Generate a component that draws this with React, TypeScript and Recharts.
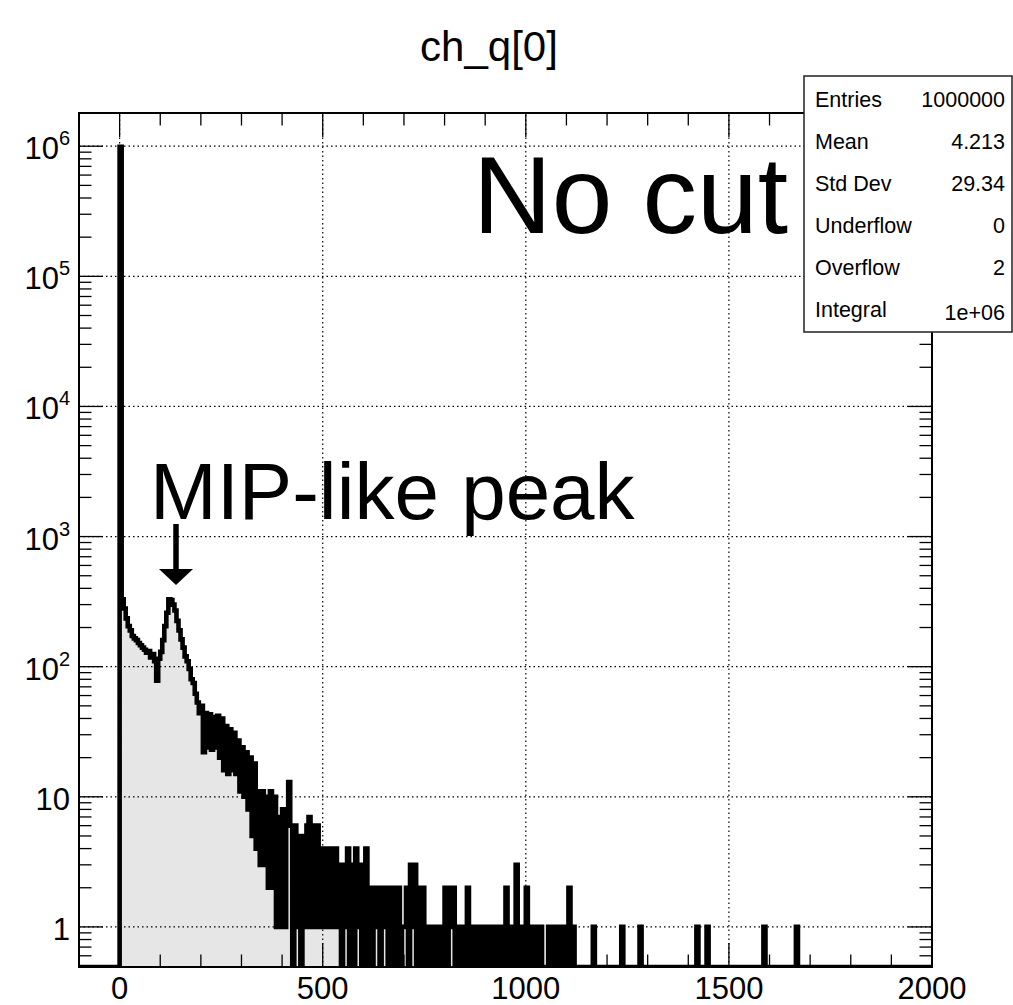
import React from 'react';
import { AreaChart, Area, XAxis, YAxis, ReferenceLine } from 'recharts';

/* ─── Layout ─────────────────────────────────────────────────────────── */

const FONT = '"Liberation Sans", Arial, Helvetica, sans-serif';
const W = 1013;
const H = 1005;
const PLOT = { left: 79, right: 932, top: 113, bottom: 967 };

const X_MIN = -100;
const X_MAX = 2000;
const Y_MIN = 0.492;
const Y_MAX = 1.8e6;
const BIN_WIDTH = 5;

/* ─── Data (counts per 5-unit bin) ───────────────────────────────────── */

// bins 0 .. 200
const countsLow = [
  990000, 330, 280, 235, 205, 190, 172, 165, 160, 152,
  146, 140, 135, 128, 132, 118, 125, 110, 78, 115,
  130, 160, 205, 260, 330, 325, 300, 270, 225, 190,
  162, 140, 120, 110, 96, 80, 75, 62, 53, 44,
];

// bins 200 .. 540
const countsMid = [
  50, 22, 44, 24, 43, 23, 41, 24, 42, 20,
  40, 16, 35, 15, 33, 16, 31, 15, 27, 11,
  24, 10, 22, 8, 20, 5, 18, 4, 11, 3,
  11, 3, 10, 2, 11, 2, 10, 1, 7, 1,
  8, 1, 7, 13, 6, 0, 6, 1, 5, 0,
  5, 1, 6, 7, 1, 6, 1, 6, 1, 4,
  1, 4, 1, 4, 1, 3, 4, 1,
];

// bins 540 .. 1130
const countsTail = [
  3, 0, 3, 1, 4, 0, 3, 0, 4, 1,
  3, 0, 3, 4, 0, 2, 0, 2, 1, 2,
  0, 2, 1, 2, 0, 2, 2, 0, 1, 2,
  0, 1, 1, 2, 0, 3, 1, 3, 0, 2,
  0, 2, 1, 0, 1, 0, 1, 1, 0, 1,
  0, 1, 2, 0, 2, 1, 2, 0, 1, 0,
  1, 1, 0, 2, 0, 1, 0, 1, 1, 0,
  1, 0, 1, 1, 0, 1, 0, 1, 0, 1,
  1, 0, 2, 1, 0, 1, 0, 3, 0, 1,
  0, 1, 2, 0, 1, 0, 1, 1, 0, 1,
  0, 0, 0, 1, 0, 1, 1, 0, 0, 1,
  1, 0, 0, 2, 0, 1, 0, 0,
];

// isolated bins above 1130: [lower edge, count]
const sparseHits: Array<[number, number]> = [
  [1165, 1], [1235, 1], [1280, 1], [1420, 1], [1445, 1], [1585, 1], [1665, 1],
];

const X_TICKS = [
  0, 100, 200, 300, 400, 500, 600, 700, 800, 900, 1000,
  1100, 1200, 1300, 1400, 1500, 1600, 1700, 1800, 1900, 2000,
];
const X_GRID = [0, 500, 1000, 1500];
const Y_DECADES = [1, 10, 100, 1000, 10000, 100000];
const Y_MULT = [1, 2, 3, 4, 5, 6, 7, 8, 9];
const Y_TICKS = [0.6, 0.7, 0.8, 0.9, ...Y_DECADES.flatMap((d) => Y_MULT.map((m) => m * d)), 1e6];
const Y_GRID = [1, 10, 100, 1000, 10000, 100000, 1000000];

const STAT_ROWS: Array<[string, string]> = [
  ['Entries', '1000000'],
  ['Mean', '4.213'],
  ['Std Dev', '29.34'],
  ['Underflow', '0'],
  ['Overflow', '2'],
  ['Integral', '1e+06'],
];

/* ─── Histogram table (step points at bin lower edges) ───────────────── */

const dense = [...countsLow, ...countsMid, ...countsTail];
const table: Array<{ x: number; q: number }> = [{ x: X_MIN, q: Y_MIN }];
dense.forEach((c, i) => table.push({ x: i * BIN_WIDTH, q: c > 0 ? c : Y_MIN }));
table.push({ x: dense.length * BIN_WIDTH, q: Y_MIN });
sparseHits.forEach(([x, c]) => {
  table.push({ x, q: c });
  table.push({ x: x + BIN_WIDTH, q: Y_MIN });
});
table.push({ x: X_MAX, q: Y_MIN });

/* ─── Ticks ─────────────────────────────────────────────────────────── */

// eslint-disable-next-line @typescript-eslint/no-explicit-any
const renderXTick = (props: any) => {
  const { x, payload } = props;
  const v = payload.value as number;
  const major = v % 500 === 0;
  const len = major ? 24 : 12.5;
  return (
    <g>
      <line x1={x} x2={x} y1={PLOT.bottom} y2={PLOT.bottom - len} stroke="#000" strokeWidth={1.3} />
      <line x1={x} x2={x} y1={PLOT.top} y2={PLOT.top + len} stroke="#000" strokeWidth={1.3} />
      {major && (
        <text x={x} y={999} textAnchor="middle" fontSize={31} fontFamily={FONT} fill="#000">
          {v}
        </text>
      )}
    </g>
  );
};

// eslint-disable-next-line @typescript-eslint/no-explicit-any
const renderYTick = (props: any) => {
  const { y, payload } = props;
  const v = payload.value as number;
  const e = Math.log10(v);
  const major = Math.abs(e - Math.round(e)) < 1e-9;
  const len = major ? 24 : 12.5;
  const exp = Math.round(e);
  return (
    <g>
      <line x1={PLOT.left} x2={PLOT.left + len} y1={y} y2={y} stroke="#000" strokeWidth={1.3} />
      <line x1={PLOT.right - len} x2={PLOT.right} y1={y} y2={y} stroke="#000" strokeWidth={1.3} />
      {major && (
        <text x={70} y={y + 13} textAnchor="end" fontSize={31} fontFamily={FONT} fill="#000">
          {exp === 0 ? '1' : exp === 1 ? '10' : (
            <>
              <tspan>10</tspan>
              <tspan fontSize={20} dy={-14}>{exp}</tspan>
            </>
          )}
        </text>
      )}
    </g>
  );
};

/* ─── Main export ───────────────────────────────────────────────────── */

export default function App() {
  const boxX = 804;
  const boxY = 76;
  const boxW = 208;
  const boxH = 256;
  return (
    <div style={{ position: 'absolute', left: 0, top: 0, width: W, height: H, background: '#fff' }}>
      <AreaChart
        width={W}
        height={H}
        data={table}
        margin={{ top: PLOT.top, right: W - PLOT.right, bottom: 0, left: 0 }}
      >
        <XAxis
          type="number"
          dataKey="x"
          domain={[X_MIN, X_MAX]}
          allowDataOverflow
          ticks={X_TICKS}
          interval={0}
          height={H - PLOT.bottom}
          axisLine={false}
          tickLine={false}
          tick={renderXTick}
        />
        <YAxis
          type="number"
          scale="log"
          domain={[Y_MIN, Y_MAX]}
          allowDataOverflow
          ticks={Y_TICKS}
          interval={0}
          width={PLOT.left}
          axisLine={false}
          tickLine={false}
          tick={renderYTick}
        />
        <Area
          type="stepAfter"
          dataKey="q"
          baseValue={Y_MIN}
          stroke="#000"
          strokeWidth={4.6}
          strokeLinejoin="miter"
          fill="#e6e6e6"
          fillOpacity={1}
          dot={false}
          activeDot={false}
          isAnimationActive={false}
        />
        {X_GRID.map((v) => (
          <ReferenceLine key={`gx${v}`} x={v} stroke="#000" strokeWidth={1.2} strokeDasharray="1.5 3" />
        ))}
        {Y_GRID.map((v) => (
          <ReferenceLine key={`gy${v}`} y={v} stroke="#000" strokeWidth={1.2} strokeDasharray="1.5 3" />
        ))}
      </AreaChart>

      <svg
        width={W}
        height={H}
        style={{ position: 'absolute', left: 0, top: 0, pointerEvents: 'none' }}
        fontFamily={FONT}
      >
        <rect
          x={PLOT.left}
          y={PLOT.top}
          width={PLOT.right - PLOT.left}
          height={PLOT.bottom - PLOT.top}
          fill="none"
          stroke="#000"
          strokeWidth={2}
        />
        <text x={489} y={61} textAnchor="middle" fontSize={42} fill="#000">
          ch_q[0]
        </text>
        <text x={788} y={233} textAnchor="end" fontSize={109} fill="#000">
          No cut
        </text>
        <text x={150} y={519} fontSize={80} fill="#000">
          MIP-like peak
        </text>
        <line x1={176} x2={176} y1={524} y2={571} stroke="#000" strokeWidth={5.5} />
        <polygon points="159,569 193,569 176,585" fill="#000" />

        <rect x={boxX} y={boxY} width={boxW} height={boxH} fill="#fff" stroke="#222" strokeWidth={1.5} />
        {STAT_ROWS.map(([k, v], i) => (
          <g key={k}>
            <text x={815} y={107 + i * 42} fontSize={21.5} fill="#000">
              {k}
            </text>
            <text x={1005} y={107 + i * 42 + (i === 5 ? 3 : 0)} textAnchor="end" fontSize={21.5} fill="#000">
              {v}
            </text>
          </g>
        ))}
      </svg>
    </div>
  );
}
